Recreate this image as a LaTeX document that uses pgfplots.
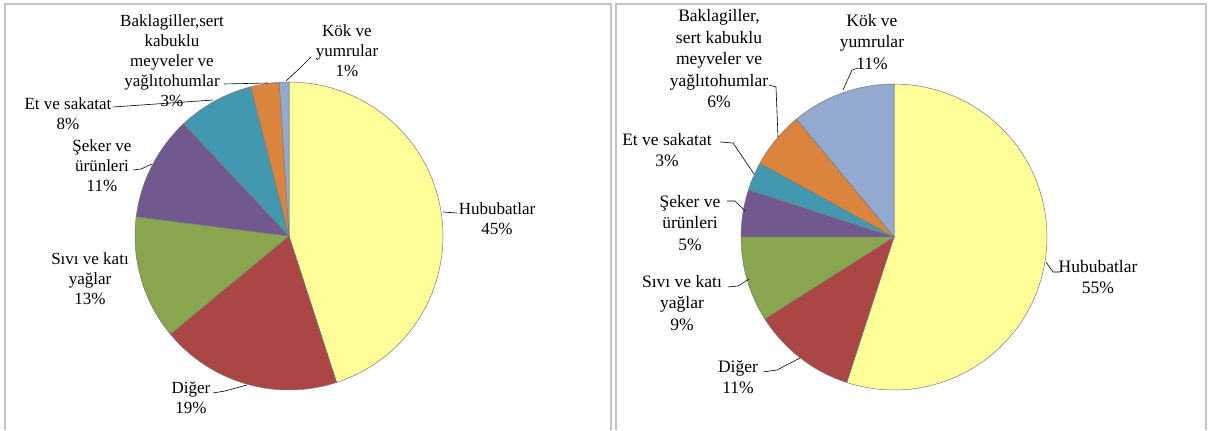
\documentclass[border=0pt]{standalone}
\usepackage{pgfplots}
\pgfplotsset{compat=1.18}
\usepackage{pgfplotstable}
\usepackage{fontspec}
\setmainfont{Liberation Serif}
\newfontfamily\tnr{Liberation Serif}

\definecolor{cY}{HTML}{FFFF99}
\definecolor{cR}{HTML}{AA4643}
\definecolor{cG}{HTML}{89A54E}
\definecolor{cP}{HTML}{71588F}
\definecolor{cT}{HTML}{4198AF}
\definecolor{cO}{HTML}{DB843D}
\definecolor{cB}{HTML}{93A9CF}
\definecolor{edgec}{HTML}{7A7A7A}
\definecolor{framec}{HTML}{C4C4C4}

% shares (percent), clockwise from 12 o'clock
\pgfplotstableread{
share color
45 cY
19 cR
13 cG
11 cP
8  cT
3  cO
1  cB
}\leftdata
\pgfplotstableread{
share color
55 cY
11 cR
9  cG
5  cP
3  cT
6  cO
11 cB
}\rightdata

\newcommand\drawpie[4]{%
  \def\cum{0}%
  \pgfplotstablegetrowsof{#1}\pgfmathtruncatemacro\nrows{\pgfplotsretval-1}%
  \pgfplotsforeachungrouped \i in {0,...,\nrows}{%
    \pgfplotstablegetelem{\i}{share}\of{#1}\let\v\pgfplotsretval
    \pgfplotstablegetelem{\i}{color}\of{#1}\let\c\pgfplotsretval
    \pgfmathsetmacro\aS{90-3.6*\cum}%
    \pgfmathsetmacro\cum{\cum+\v}%
    \pgfmathsetmacro\aE{90-3.6*\cum}%
    \edef\doslice{\noexpand\addplot[fill=\c, draw=edgec, line width=0.5pt, domain=\aE:\aS, samples=90, variable=\noexpand\t] ({#2+#4*cos(\noexpand\t)},{#3+#4*sin(\noexpand\t)}) -- (#2,#3) -- cycle;}%
    \doslice
  }%
}

\newcommand\lf{\tnr\fontsize{17}{20}\selectfont}
\newcommand\rf{\tnr\fontsize{17.5}{21.5}\selectfont}

\begin{document}
\begin{tikzpicture}
\begin{axis}[
  scale only axis, width=1208pt, height=428pt,
  xmin=0, xmax=1208, ymin=0, ymax=428,
  hide axis, clip=false,
]
\path (axis cs:0,0) rectangle (axis cs:1208,428);
% panel frames
\addplot[framec, line width=1.5pt] coordinates {(5,-2) (5,424) (611,424) (611,-2)};
\addplot[framec, line width=1.5pt] coordinates {(616,-2) (616,424) (1206,424) (1206,-2)};

\drawpie{\leftdata}{289}{192}{154}
\drawpie{\rightdata}{894}{191}{153}

% leader lines left
\addplot[black, line width=0.6pt] coordinates {(311,371) (300,360) (286,347)};
\addplot[black, line width=0.6pt] coordinates {(224,344) (268,345)};
\addplot[black, line width=0.6pt] coordinates {(113,321) (213,328)};
\addplot[black, line width=0.6pt] coordinates {(133,258) (141,259) (152,264)};
\addplot[black, line width=0.6pt] coordinates {(213,35) (225,37) (247,43)};
\addplot[black, line width=0.6pt] coordinates {(443,216) (457,215)};
% leader lines right
\addplot[black, line width=0.6pt] coordinates {(769,343) (776,341) (778,291)};
\addplot[black, line width=0.6pt] coordinates {(858,360) (852,358) (843,338)};
\addplot[black, line width=0.6pt] coordinates {(720,286) (733,285) (754,254)};
\addplot[black, line width=0.6pt] coordinates {(727,227) (735,227) (745,217)};
\addplot[black, line width=0.6pt] coordinates {(728,141) (738,142) (749,149)};
\addplot[black, line width=0.6pt] coordinates {(763,56) (777,58) (800,70)};
\addplot[black, line width=0.6pt] coordinates {(1046,166) (1053,156) (1060,156)};

% labels left
\node[align=center, font=\lf, inner sep=0pt] at (axis cs:347,377) {Kök ve\\yumrular\\1\%};
\node[align=center, font=\lf, inner sep=0pt] at (axis cs:172,367) {Baklagiller,sert\\kabuklu\\meyveler ve\\yağlıtohumlar\\3\%};
\node[align=center, font=\lf, inner sep=0pt] at (axis cs:68,314) {Et ve sakatat\\8\%};
\node[align=center, font=\lf, inner sep=0pt] at (axis cs:102,262) {Şeker ve\\ürünleri\\11\%};
\node[align=center, font=\lf, inner sep=0pt] at (axis cs:90,149) {Sıvı ve katı\\yağlar\\13\%};
\node[align=center, font=\lf, inner sep=0pt] at (axis cs:191,30) {Diğer\\19\%};
\node[align=center, font=\lf, inner sep=0pt] at (axis cs:497,209) {Hububatlar\\45\%};
% labels right
\node[align=center, font=\rf, inner sep=0pt] at (axis cs:719,369) {Baklagiller,\\sert kabuklu\\meyveler ve\\yağlıtohumlar\\6\%};
\node[align=center, font=\rf, inner sep=0pt] at (axis cs:872,386) {Kök ve\\yumrular\\11\%};
\node[align=center, font=\rf, inner sep=0pt] at (axis cs:667,278) {Et ve sakatat\\3\%};
\node[align=center, font=\rf, inner sep=0pt] at (axis cs:690,205) {Şeker ve\\ürünleri\\5\%};
\node[align=center, font=\rf, inner sep=0pt] at (axis cs:682,125) {Sıvı ve katı\\yağlar\\9\%};
\node[align=center, font=\rf, inner sep=0pt] at (axis cs:738,51) {Diğer\\11\%};
\node[align=center, font=\rf, inner sep=0pt] at (axis cs:1098,151) {Hububatlar\\55\%};
\end{axis}
\end{tikzpicture}
\end{document}
